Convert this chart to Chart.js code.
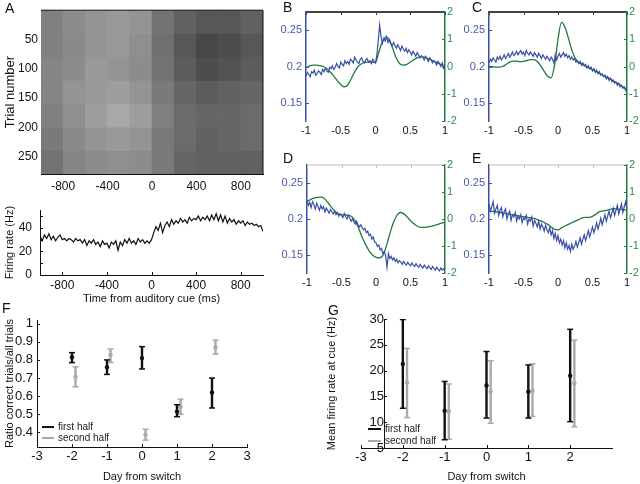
<!DOCTYPE html>
<html>
<head>
<meta charset="utf-8">
<script src="https://cdn.jsdelivr.net/npm/chart.js@4.4.1/dist/chart.umd.min.js"></script>
<style>
  body { margin: 0; background: #fff; width: 640px; height: 484px; overflow: hidden; position: relative;
         font-family: "Liberation Sans", Arial, sans-serif; }
  canvas { position: absolute; }
  .lbl { position: absolute; font-size: 14px; line-height: 14px; color: #111; }
  .leg { position: absolute; font-size: 10px; line-height: 11px; color: #222; white-space: nowrap; }
  .leg i { display: inline-block; width: 12px; border-top: 2px solid; vertical-align: middle; margin-right: 4px; }
</style>
</head>
<body>
<canvas id="raster" width="270" height="195" style="left:0;top:0"></canvas>
<canvas id="rate" width="270" height="112" style="left:0;top:195px"></canvas>
<canvas id="pB" width="200" height="140" style="left:270px;top:0"></canvas>
<canvas id="pC" width="185" height="140" style="left:455px;top:0"></canvas>
<canvas id="pD" width="200" height="140" style="left:270px;top:150px"></canvas>
<canvas id="pE" width="185" height="140" style="left:455px;top:150px"></canvas>
<canvas id="pF" width="270" height="184" style="left:0;top:300px"></canvas>
<canvas id="pG" width="360" height="184" style="left:280px;top:300px"></canvas>

<div class="lbl" style="left:5px;top:1px">A</div>
<div class="lbl" style="left:283px;top:0">B</div>
<div class="lbl" style="left:472px;top:0">C</div>
<div class="lbl" style="left:283px;top:151px">D</div>
<div class="lbl" style="left:472px;top:151px">E</div>
<div class="lbl" style="left:2px;top:301px">F</div>
<div class="lbl" style="left:328px;top:303px">G</div>

<div class="leg" style="left:42px;top:421px"><i style="border-color:#111"></i>first half</div>
<div class="leg" style="left:42px;top:432px"><i style="border-color:#aaa"></i>second half</div>
<div class="leg" style="left:368px;top:423px"><i style="border-color:#111;width:13px"></i>first half</div>
<div class="leg" style="left:368px;top:435px"><i style="border-color:#aaa;width:13px"></i>second half</div>

<script>
// ---- panel A: raster, summarised as spike density per block (0 = empty, 1 = full)
const rasterTimes = [-900, -700, -500, -300, -100, 100, 300, 500, 700, 900];
const rasterTrialEdges = [0, 40, 80, 120, 160, 200, 240, 280];
const rasterDensity = [
  [0.50, 0.45, 0.42, 0.40, 0.42, 0.55, 0.62, 0.66, 0.66, 0.62],
  [0.50, 0.46, 0.42, 0.40, 0.44, 0.56, 0.66, 0.72, 0.70, 0.66],
  [0.48, 0.45, 0.40, 0.42, 0.45, 0.55, 0.64, 0.70, 0.68, 0.64],
  [0.48, 0.42, 0.40, 0.38, 0.42, 0.52, 0.60, 0.64, 0.62, 0.60],
  [0.50, 0.44, 0.38, 0.34, 0.38, 0.50, 0.58, 0.60, 0.60, 0.58],
  [0.52, 0.46, 0.42, 0.40, 0.42, 0.52, 0.58, 0.62, 0.60, 0.58],
  [0.55, 0.48, 0.45, 0.44, 0.45, 0.52, 0.60, 0.62, 0.62, 0.62]
];
const trialTicks = [50, 100, 150, 200, 250];
const cueTimeTicks = [-800, -400, 0, 400, 800];

// ---- panel A: firing rate, one value every 20 ms from -1000 ms
const rateStart = -1000, rateStep = 20;
const rateHz = [
  33, 29, 34, 31, 35, 30, 33, 29, 32, 34,
  30, 31, 29, 31, 30, 28, 31, 29, 30, 27,
  30, 25, 29, 27, 30, 26, 28, 24, 29, 26,
  27, 23, 28, 26, 29, 21, 28, 25, 30, 27,
  31, 27, 29, 26, 31, 28, 30, 27, 29, 27,
  30, 36, 41, 38, 44, 36, 42, 45, 41, 47,
  43, 46, 44, 48, 45, 47, 44, 49, 46, 48,
  47, 50, 46, 49, 47, 50, 46, 51, 47, 52,
  46, 51, 45, 50, 44, 48, 45, 47, 43, 46,
  44, 46, 42, 45, 43, 44, 42, 43, 41, 42,
  37
];
const rateTicks = [0, 20, 40];
const rateMarks = [0, 10, 20, 30, 40, 50];

// ---- panels B-E: blue every 0.02 s, green every 0.05 s, both from -1 s
const tStart = -1, blueStep = 0.02, greenStep = 0.05;
const bBlue = [
  0.187, 0.192, 0.189, 0.186, 0.193, 0.191, 0.195, 0.188, 0.190, 0.194,
  0.192, 0.189, 0.196, 0.193, 0.198, 0.194, 0.192, 0.199, 0.197, 0.201,
  0.196, 0.199, 0.204, 0.200, 0.198, 0.206, 0.203, 0.201, 0.208, 0.204,
  0.207, 0.203, 0.210, 0.208, 0.205, 0.213, 0.209, 0.206, 0.204, 0.210,
  0.212, 0.207, 0.205, 0.209, 0.211, 0.206, 0.208, 0.204, 0.210, 0.207,
  0.205, 0.216, 0.236, 0.257, 0.241, 0.232, 0.239, 0.235, 0.241, 0.233,
  0.237, 0.231, 0.228, 0.233, 0.229, 0.225, 0.230, 0.226, 0.222, 0.228,
  0.224, 0.221, 0.225, 0.219, 0.223, 0.220, 0.216, 0.221, 0.218, 0.214,
  0.219, 0.216, 0.212, 0.215, 0.213, 0.209, 0.214, 0.211, 0.207, 0.212,
  0.209, 0.205, 0.208, 0.206, 0.202, 0.207, 0.204, 0.200, 0.205, 0.198,
  0.203
];
const bGreen = [
  -0.05, 0.02, 0.05, 0.05, 0.03, 0.0, -0.08, -0.2, -0.35, -0.52,
  -0.66, -0.75, -0.68, -0.45, -0.2, 0.0, 0.1, 0.15, 0.17, 0.16,
  0.14, 0.55, 0.92, 1.08, 0.98, 0.65, 0.3, 0.1, 0.05, 0.08,
  0.16, 0.25, 0.32, 0.35, 0.34, 0.3, 0.24, 0.18, 0.12, 0.06,
  0.0
];
const cBlue = [
  0.205, 0.210, 0.207, 0.212, 0.209, 0.206, 0.213, 0.210, 0.214, 0.209,
  0.212, 0.216, 0.211, 0.214, 0.218, 0.213, 0.216, 0.220, 0.215, 0.217,
  0.221, 0.216, 0.219, 0.222, 0.217, 0.220, 0.215, 0.222, 0.218, 0.216,
  0.220, 0.217, 0.214, 0.219, 0.216, 0.213, 0.218, 0.215, 0.211, 0.216,
  0.213, 0.210, 0.214, 0.211, 0.208, 0.213, 0.210, 0.205, 0.216, 0.209,
  0.214, 0.218, 0.213, 0.216, 0.219, 0.214, 0.217, 0.212, 0.215, 0.210,
  0.213, 0.209, 0.211, 0.206, 0.208, 0.204, 0.207, 0.202, 0.205, 0.201,
  0.203, 0.198, 0.201, 0.197, 0.199, 0.194, 0.197, 0.192, 0.195, 0.190,
  0.193, 0.188, 0.190, 0.186, 0.188, 0.183, 0.186, 0.181, 0.184, 0.179,
  0.181, 0.177, 0.179, 0.174, 0.177, 0.172, 0.174, 0.170, 0.172, 0.167,
  0.166
];
const cGreen = [
  0.0, -0.01, -0.02, -0.02, 0.0, 0.08, 0.16, 0.2, 0.2, 0.18,
  0.19, 0.22, 0.25, 0.25, 0.18, 0.02, -0.18, -0.36, -0.42, 0.05,
  1.0, 1.62, 1.45, 1.05, 0.6, 0.3, 0.15, 0.08, 0.0, -0.06,
  -0.12, -0.18, -0.25, -0.32, -0.38, -0.45, -0.52, -0.6, -0.67, -0.76,
  -0.84
];
const dBlue = [
  0.226, 0.219, 0.223, 0.216, 0.224, 0.220, 0.214, 0.222, 0.217, 0.212,
  0.219, 0.214, 0.217, 0.210, 0.215, 0.212, 0.208, 0.213, 0.210, 0.207,
  0.211, 0.206, 0.209, 0.204, 0.207, 0.205, 0.202, 0.208, 0.203, 0.200,
  0.205, 0.201, 0.197, 0.200, 0.196, 0.193, 0.197, 0.192, 0.189, 0.192,
  0.188, 0.185, 0.187, 0.181, 0.183, 0.177, 0.179, 0.172, 0.175, 0.168,
  0.167, 0.162, 0.164, 0.157, 0.159, 0.152, 0.155, 0.149, 0.133, 0.152,
  0.145, 0.148, 0.143, 0.146, 0.141, 0.144, 0.139, 0.142, 0.140, 0.137,
  0.141, 0.138, 0.136, 0.140, 0.137, 0.135, 0.139, 0.136, 0.134, 0.138,
  0.135, 0.133, 0.137, 0.134, 0.132, 0.136, 0.133, 0.131, 0.135, 0.132,
  0.130, 0.134, 0.131, 0.129, 0.133, 0.130, 0.128, 0.132, 0.129, 0.131,
  0.128
];
const dGreen = [
  0.65, 0.72, 0.77, 0.8, 0.81, 0.76, 0.62, 0.45, 0.3, 0.2,
  0.16, 0.15, 0.14, 0.08, -0.08, -0.35, -0.68, -0.95, -1.18, -1.33,
  -1.42, -1.44, -1.35, -1.0, -0.55, -0.15, 0.12, 0.24, 0.2, 0.08,
  -0.06, -0.18, -0.27, -0.31, -0.31, -0.29, -0.27, -0.24, -0.2, -0.15,
  -0.11
];
const eBlue = [
  0.221, 0.211, 0.217, 0.224, 0.208, 0.214, 0.219, 0.205, 0.212, 0.216,
  0.203, 0.210, 0.214, 0.200, 0.207, 0.211, 0.198, 0.206, 0.203, 0.209,
  0.197, 0.204, 0.200, 0.206, 0.195, 0.202, 0.199, 0.205, 0.193, 0.200,
  0.197, 0.203, 0.190, 0.198, 0.194, 0.189, 0.197, 0.186, 0.193, 0.189,
  0.183, 0.191, 0.185, 0.181, 0.188, 0.178, 0.184, 0.173, 0.180, 0.170,
  0.177, 0.167, 0.172, 0.164, 0.170, 0.160, 0.167, 0.158, 0.163, 0.155,
  0.165, 0.158, 0.162, 0.169, 0.161, 0.167, 0.174, 0.165, 0.172, 0.178,
  0.170, 0.177, 0.184, 0.175, 0.182, 0.189, 0.181, 0.187, 0.195, 0.186,
  0.193, 0.201, 0.192, 0.199, 0.206, 0.197, 0.204, 0.211, 0.202, 0.208,
  0.215, 0.205, 0.212, 0.219, 0.207, 0.214, 0.221, 0.209, 0.217, 0.224,
  0.213
];
const eGreen = [
  0.3, 0.28, 0.26, 0.25, 0.23, 0.2, 0.18, 0.15, 0.13, 0.11,
  0.09, 0.07, 0.05, 0.02, -0.02, -0.07, -0.13, -0.2, -0.3, -0.38,
  -0.4, -0.33, -0.26, -0.2, -0.14, -0.08, -0.02, 0.04, 0.06, 0.06,
  0.1, 0.18, 0.27, 0.3, 0.32, 0.35, 0.38, 0.37, 0.36, 0.35,
  0.33
];
const secTicks = [-1, -0.5, 0, 0.5, 1];
const leftTicks = [0.15, 0.2, 0.25];
const rightTicks = [-2, -1, 0, 1, 2];

// ---- panels F and G
const days = [-2, -1, 0, 1, 2];
const ratioFirstMean = [0.815, 0.76, 0.81, 0.515, 0.62];
const ratioFirstLo = [0.785, 0.72, 0.75, 0.487, 0.535];
const ratioFirstHi = [0.84, 0.80, 0.873, 0.553, 0.70];
const ratioSecondMean = [0.707, 0.828, 0.387, 0.542, 0.869];
const ratioSecondLo = [0.652, 0.786, 0.358, 0.50, 0.832];
const ratioSecondHi = [0.762, 0.86, 0.418, 0.584, 0.909];
const rateFirstMean = [21.3, 12.2, 17.1, 15.9, 19.0];
const rateFirstLo = [12.7, 6.6, 10.8, 10.8, 10.1];
const rateFirstHi = [29.9, 17.9, 23.7, 21.1, 28.0];
const rateSecondMean = [17.7, 12.1, 15.9, 16.1, 17.5];
const rateSecondLo = [10.9, 6.7, 9.8, 11.1, 9.1];
const rateSecondHi = [24.3, 17.4, 21.9, 21.3, 25.9];
const dayTicksF = [-3, -2, -1, 0, 1, 2, 3];
const ratioTicks = [0.4, 0.5, 0.6, 0.7, 0.8, 0.9, 1];
const dayTicksG = [-3, -2, -1, 0, 1, 2];
const cueRateTicks = [5, 10, 15, 20, 25, 30];
const gAxisCross = -2.45;   // G's vertical axis sits a little right of day -3

const BLUE = '#3a4ea6', GREEN = '#1e7b3d', BLUE_TXT = '#4858a8', GREEN_TXT = '#2f8b4b';
const INK = '#111', GREY = '#aaaaaa';
const secondOffset = 0.1;

Chart.defaults.font.family = '"Liberation Sans", Arial, sans-serif';
Chart.defaults.color = INK;

// extra box sides round the plot area
Chart.register({
  id: 'frame',
  afterDatasetsDraw(chart, args, opts) {
    const a = chart.chartArea, ctx = chart.ctx;
    (opts.sides || []).forEach(s => {
      ctx.save();
      ctx.strokeStyle = s.color;
      ctx.lineWidth = s.width;
      ctx.beginPath();
      if (s.side === 'top') { ctx.moveTo(a.left, a.top); ctx.lineTo(a.right, a.top); }
      if (s.side === 'right') { ctx.moveTo(a.right, a.top); ctx.lineTo(a.right, a.bottom); }
      if (s.side === 'bottom') { ctx.moveTo(a.left, a.bottom); ctx.lineTo(a.right, a.bottom); }
      ctx.stroke();
      ctx.restore();
    });
  }
});

// short tick marks pointing into the plot, matlab style
Chart.register({
  id: 'inTicks',
  afterDatasetsDraw(chart, args, opts) {
    const a = chart.chartArea, ctx = chart.ctx, len = 3;
    (opts.marks || []).forEach(m => {
      const s = chart.scales[m.scale];
      ctx.save();
      ctx.strokeStyle = m.color || INK;
      ctx.lineWidth = 1;
      ctx.beginPath();
      m.values.forEach(v => {
        const p = Math.round(s.getPixelForValue(v)) + 0.5;
        if (m.edge === 'bottom') { ctx.moveTo(p, a.bottom); ctx.lineTo(p, a.bottom - len); }
        if (m.edge === 'top') { ctx.moveTo(p, a.top); ctx.lineTo(p, a.top + len); }
        if (m.edge === 'left' || m.edge === 'cross') {
          const x0 = m.edge === 'cross' ? chart.scales.x.getPixelForValue(m.at) : a.left;
          ctx.moveTo(x0, p); ctx.lineTo(x0 + len, p);
        }
        if (m.edge === 'right') { ctx.moveTo(a.right, p); ctx.lineTo(a.right - len, p); }
      });
      ctx.stroke();
      ctx.restore();
    });
  }
});

function fixedTicks(values) {
  return s => { s.ticks = values.map(v => ({ value: v })); };
}

function axis(o) {
  return {
    type: 'linear', position: o.position, min: o.min, max: o.max, reverse: !!o.reverse,
    afterBuildTicks: fixedTicks(o.ticks),
    afterFit: s => { if (o.position === 'bottom') s.height = o.size; else s.width = o.size; },
    grid: { display: false, drawTicks: false },
    border: { display: o.border !== false, color: o.borderColor || INK, width: o.borderWidth || 1 },
    ticks: { display: o.noLabels ? false : true, font: { size: o.font }, color: o.color || INK, padding: o.pad,
             autoSkip: false, maxRotation: 0, callback: v => String(v) },
    title: o.title ? { display: true, text: o.title, font: { size: o.titleSize }, color: INK,
                       padding: { top: o.titlePad, bottom: o.titlePad } } : { display: false }
  };
}

function baseOptions(padding, scales, sides, marks) {
  return {
    responsive: false, animation: false, devicePixelRatio: 1, events: [],
    layout: { padding },
    scales,
    plugins: { legend: { display: false }, tooltip: { enabled: false },
               frame: { sides: sides || [] }, inTicks: { marks: marks || [] } }
  };
}

function grey(d) {
  const g = Math.round(255 * (1 - d));
  return `rgb(${g},${g},${g})`;
}

// ---- A: raster
new Chart(document.getElementById('raster'), {
  type: 'bar',
  data: {
    datasets: rasterDensity.map((row, r) => ({
      data: rasterTimes.map(t => ({ x: t, y: [rasterTrialEdges[r], rasterTrialEdges[r + 1]] })),
      backgroundColor: row.map(grey),
      borderWidth: 0, grouped: false, barPercentage: 1, categoryPercentage: 1
    }))
  },
  options: baseOptions({ top: 2, right: 7 }, {
    x: Object.assign(axis({ position: 'bottom', min: -1000, max: 1000, ticks: cueTimeTicks, size: 21, font: 12, pad: 5 }), { offset: false }),
    y: axis({ position: 'left', min: 0, max: 280, reverse: true, ticks: trialTicks, size: 41, font: 12, pad: 3,
              title: 'Trial number', titleSize: 13, titlePad: 3 })
  }, [{ side: 'top', color: INK, width: 1 }, { side: 'right', color: INK, width: 1 }])
});

// ---- A: firing rate
new Chart(document.getElementById('rate'), {
  type: 'scatter',
  data: {
    datasets: [{
      data: rateHz.map((v, i) => ({ x: rateStart + i * rateStep, y: v })),
      showLine: true, borderColor: INK, borderWidth: 1.2, pointRadius: 0
    }]
  },
  options: baseOptions({ top: 10, right: 7 }, {
    x: axis({ position: 'bottom', min: -1000, max: 1000, ticks: cueTimeTicks, size: 32, font: 12, pad: 3,
              title: 'Time from auditory cue (ms)', titleSize: 11, titlePad: 1 }),
    y: axis({ position: 'left', min: 0, max: 55, ticks: rateTicks, size: 40, font: 12, pad: 8,
              title: 'Firing rate (Hz)', titleSize: 11, titlePad: 3 })
  }, [], [
    { scale: 'x', edge: 'bottom', values: cueTimeTicks },
    { scale: 'y', edge: 'left', values: rateMarks }
  ])
});

// ---- B-E: blue (left axis) and green (right axis)
function dualPanel(id, blue, green, o) {
  new Chart(document.getElementById(id), {
    type: 'scatter',
    data: {
      datasets: [
        { data: blue.map((v, i) => ({ x: tStart + i * blueStep, y: v })), yAxisID: 'y',
          showLine: true, borderColor: BLUE, borderWidth: 1.2, pointRadius: 0 },
        { data: green.map((v, i) => ({ x: tStart + i * greenStep, y: v })), yAxisID: 'y2',
          showLine: true, borderColor: GREEN, borderWidth: 1.3, pointRadius: 0, cubicInterpolationMode: 'monotone' }
      ]
    },
    options: baseOptions({ top: o.top }, {
      x: axis({ position: 'bottom', min: -1, max: 1, ticks: secTicks, size: o.xSize, font: 11, pad: 3, border: false }),
      y: axis({ position: 'left', min: 0.125, max: 0.275, ticks: leftTicks, size: o.leftSize, font: 11, pad: 4,
                color: BLUE_TXT, borderColor: BLUE, borderWidth: 1.5 }),
      y2: axis({ position: 'right', min: -2, max: 2, ticks: rightTicks, size: o.rightSize, font: 11, pad: 2,
                 color: GREEN_TXT, borderColor: GREEN, borderWidth: 1.5 })
    }, [{ side: 'top', color: o.topColor, width: o.topWidth }], [
      { scale: 'x', edge: 'top', values: secTicks, color: o.topColor },
      { scale: 'y', edge: 'left', values: leftTicks, color: BLUE },
      { scale: 'y2', edge: 'right', values: rightTicks, color: GREEN }
    ])
  });
}
dualPanel('pB', bBlue, bGreen, { top: 12, xSize: 19, leftSize: 36, rightSize: 25, topColor: '#444', topWidth: 2 });
dualPanel('pC', cBlue, cGreen, { top: 12, xSize: 19, leftSize: 34, rightSize: 13, topColor: '#444', topWidth: 2 });
dualPanel('pD', dBlue, dGreen, { top: 15, xSize: 17, leftSize: 37, rightSize: 25, topColor: '#bbb', topWidth: 1 });
dualPanel('pE', eBlue, eGreen, { top: 15, xSize: 17, leftSize: 34, rightSize: 13, topColor: '#bbb', topWidth: 1 });

// ---- F and G: mean with error bars, first half at the day, second half just right of it
function errorSets(xs, mean, lo, hi, color) {
  const bars = [];
  xs.forEach((x, i) => { bars.push({ x, y: lo[i] }, { x, y: hi[i] }, { x, y: null }); });
  return [
    { type: 'scatter', data: xs.map((x, i) => ({ x, y: mean[i] })), pointRadius: 2.2,
      backgroundColor: color, borderColor: color, borderWidth: 0 },
    { type: 'line', data: bars, showLine: true, spanGaps: false, borderColor: color, borderWidth: 2.4,
      pointStyle: 'line', pointRadius: 3, pointBorderColor: color, pointBorderWidth: 1.5 }
  ];
}
const secondDays = days.map(d => d + secondOffset);

new Chart(document.getElementById('pF'), {
  type: 'scatter',
  data: {
    datasets: [
      ...errorSets(days, ratioFirstMean, ratioFirstLo, ratioFirstHi, INK),
      ...errorSets(secondDays, ratioSecondMean, ratioSecondLo, ratioSecondHi, GREY)
    ]
  },
  options: baseOptions({ top: 20, right: 23 }, {
    x: axis({ position: 'bottom', min: -3, max: 3, ticks: dayTicksF, size: 37, font: 13, pad: 2,
              title: 'Day from switch', titleSize: 11, titlePad: 0 }),
    y: axis({ position: 'left', min: 0.32, max: 1.02, ticks: ratioTicks, size: 37, font: 13, pad: 4,
              title: 'Ratio correct trials/all trials', titleSize: 11, titlePad: 3 })
  }, [], [
    { scale: 'x', edge: 'bottom', values: dayTicksF },
    { scale: 'y', edge: 'left', values: ratioTicks }
  ])
});

// G: the value axis crosses the day axis at gAxisCross; a bare left axis carries the title
const gValueAxis = axis({ position: 'left', min: 5, max: 30, ticks: cueRateTicks, size: 0, font: 13, pad: 4 });
gValueAxis.position = { x: gAxisCross };
delete gValueAxis.afterFit;
const gTitleAxis = axis({ position: 'left', min: 5, max: 30, ticks: cueRateTicks, size: 81, font: 13, pad: 0,
                          border: false, noLabels: true,
                          title: 'Mean firing rate at cue (Hz)', titleSize: 11, titlePad: 45 });

new Chart(document.getElementById('pG'), {
  type: 'scatter',
  data: {
    datasets: [
      ...errorSets(days, rateFirstMean, rateFirstLo, rateFirstHi, INK),
      ...errorSets(secondDays, rateSecondMean, rateSecondLo, rateSecondHi, GREY)
    ]
  },
  options: baseOptions({ top: 19, right: 28 }, {
    x: axis({ position: 'bottom', min: -3, max: 3, ticks: dayTicksG, size: 36, font: 13, pad: 2,
              title: 'Day from switch', titleSize: 11, titlePad: 0 }),
    y: gValueAxis,
    yTitle: gTitleAxis
  }, [], [
    { scale: 'x', edge: 'bottom', values: dayTicksG },
    { scale: 'y', edge: 'cross', at: gAxisCross, values: cueRateTicks }
  ])
});
</script>
</body>
</html>
